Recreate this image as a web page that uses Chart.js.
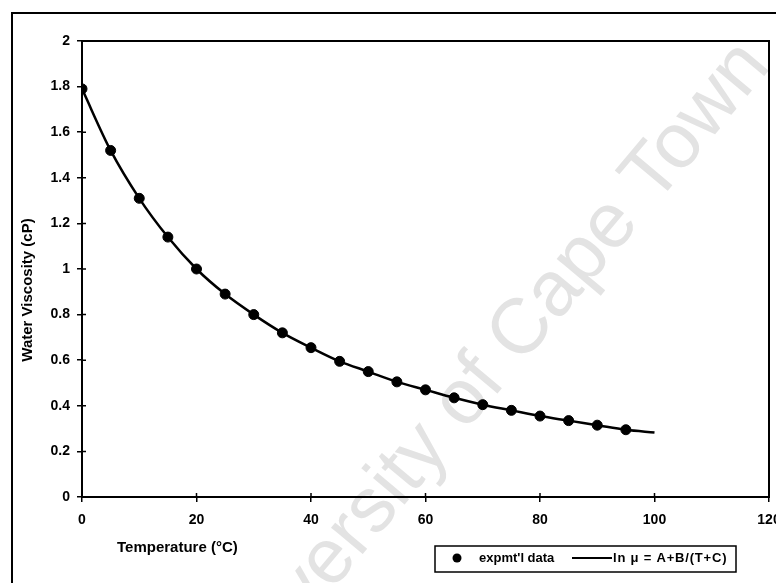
<!DOCTYPE html>
<html>
<head>
<meta charset="utf-8">
<script src="https://cdn.jsdelivr.net/npm/chart.js@4/dist/chart.umd.min.js"></script>
<style>
  html, body { margin: 0; padding: 0; background: #fff; }
  #wrap { width: 776px; height: 583px; }
</style>
</head>
<body>
<div id="wrap"><canvas id="myChart" width="776" height="583"></canvas></div>
<script>
// measured points (cP) every 5 degC
const temps = [0, 5, 10, 15, 20, 25, 30, 35, 40, 45, 50, 55, 60, 65, 70, 75, 80, 85, 90, 95];
const viscosity = [1.79, 1.52, 1.31, 1.14, 1.0, 0.89, 0.80, 0.72, 0.655, 0.595, 0.55, 0.505, 0.47, 0.435, 0.405, 0.38, 0.355, 0.335, 0.315, 0.295];
// correlation curve
const fitTemps = [0, 5, 10, 15, 20, 25, 30, 35, 40, 45, 50, 55, 60, 65, 70, 75, 80, 85, 90, 95, 100];
const fitValues = [1.79, 1.52, 1.31, 1.14, 1.0, 0.89, 0.80, 0.72, 0.655, 0.595, 0.55, 0.505, 0.47, 0.435, 0.405, 0.38, 0.355, 0.335, 0.315, 0.295, 0.283];
const xTicks = [0, 20, 40, 60, 80, 100, 120];
const yTicks = [0, 0.2, 0.4, 0.6, 0.8, 1, 1.2, 1.4, 1.6, 1.8, 2];
const seriesNames = ["expmt'l data", 'ln \u03bc = A+B/(T+C)'];

const FONT = "'Liberation Sans', Arial, sans-serif";

const decorations = {
    id: 'decorations',
    beforeDraw(chart) {
        const c = chart.ctx;
        c.save();
        // watermark
        c.translate(485, 375);
        c.rotate(-50 * Math.PI / 180);
        c.fillStyle = '#e3e3e3';
        c.font = '78px ' + FONT;
        c.textAlign = 'center';
        c.textBaseline = 'middle';
        c.fillText('University of Cape Town', 0, 0);
        c.restore();

        c.save();
        c.strokeStyle = '#000';
        c.lineWidth = 2;
        c.strokeRect(12, 13, 800, 620);
        c.restore();
    },
    afterDraw(chart) {
        const c = chart.ctx;
        const a = chart.chartArea;
        const xs = chart.scales.x, ys = chart.scales.y;
        c.save();
        c.strokeStyle = '#000';
        c.lineWidth = 2;
        c.strokeRect(a.left, a.top, a.right - a.left, a.bottom - a.top);
        // inner half of the crossing ticks
        c.lineWidth = 1.5;
        c.beginPath();
        xTicks.forEach(v => {
            const px = xs.getPixelForValue(v);
            c.moveTo(px, a.bottom);
            c.lineTo(px, a.bottom - 4);
        });
        yTicks.forEach(v => {
            const py = ys.getPixelForValue(v);
            c.moveTo(a.left, py);
            c.lineTo(a.left + 4, py);
        });
        c.stroke();

        // axis titles
        c.fillStyle = '#000';
        c.font = 'bold 15px ' + FONT;
        c.textBaseline = 'middle';
        c.textAlign = 'left';
        c.fillText('Temperature (\u00b0C)', a.left + 35, 548);
        c.save();
        c.translate(28, 290);
        c.rotate(-Math.PI / 2);
        c.textAlign = 'center';
        c.fillText('Water Viscosity (cP)', 0, 0);
        c.restore();

        // legend
        const lx = 435, ly = 546, lw = 301, lh = 26, cy = 558;
        c.lineWidth = 1.5;
        c.strokeRect(lx, ly, lw, lh);
        c.beginPath();
        c.arc(457, cy, 4.5, 0, Math.PI * 2);
        c.fill();
        c.font = 'bold 13px ' + FONT;
        c.textAlign = 'left';
        c.fillText(seriesNames[0], 479, cy);
        c.lineWidth = 2;
        c.beginPath();
        c.moveTo(572, cy);
        c.lineTo(612, cy);
        c.stroke();
        c.letterSpacing = '0.8px';
        c.fillText(seriesNames[1], 613, cy);
        c.restore();
    }
};

const ctx = document.getElementById('myChart').getContext('2d');
const chart = new Chart(ctx, {
    type: 'scatter',
    data: {
        datasets: [
            {
                label: seriesNames[1],
                type: 'line',
                data: fitTemps.map((t, i) => ({ x: t, y: fitValues[i] })),
                borderColor: '#000',
                borderWidth: 2.5,
                pointRadius: 0,
                fill: false,
                cubicInterpolationMode: 'monotone',
                order: 2
            },
            {
                label: seriesNames[0],
                data: temps.map((t, i) => ({ x: t, y: viscosity[i] })),
                backgroundColor: '#000',
                borderColor: '#000',
                pointRadius: 5,
                pointStyle: 'circle',
                order: 1
            }
        ]
    },
    options: {
        responsive: false,
        animation: false,
        layout: { padding: { top: 41, right: 7, left: 0, bottom: 0 } },
        plugins: {
            legend: { display: false },
            tooltip: { enabled: false }
        },
        scales: {
            x: {
                type: 'linear',
                min: 0,
                max: 120,
                afterBuildTicks: s => { s.ticks = xTicks.map(v => ({ value: v })); },
                afterFit: s => { s.height = 86; s.paddingLeft = 0; s.paddingRight = 0; },
                grid: { drawOnChartArea: false, color: '#000', lineWidth: 1.5, tickLength: 5 },
                border: { color: '#000', width: 2 },
                ticks: {
                    color: '#000',
                    padding: 10,
                    maxRotation: 0,
                    font: { family: FONT, size: 14, weight: 'bold' },
                    callback: v => String(v)
                }
            },
            y: {
                min: 0,
                max: 2,
                afterBuildTicks: s => { s.ticks = yTicks.map(v => ({ value: v })); },
                afterFit: s => { s.width = 82; s.paddingTop = 0; s.paddingBottom = 0; },
                grid: { drawOnChartArea: false, color: '#000', lineWidth: 1.5, tickLength: 5 },
                border: { color: '#000', width: 2 },
                ticks: {
                    color: '#000',
                    padding: 7,
                    font: { family: FONT, size: 14, weight: 'bold' },
                    callback: v => String(Number(v.toFixed(1)))
                }
            }
        }
    },
    plugins: [decorations]
});
</script>
</body>
</html>
